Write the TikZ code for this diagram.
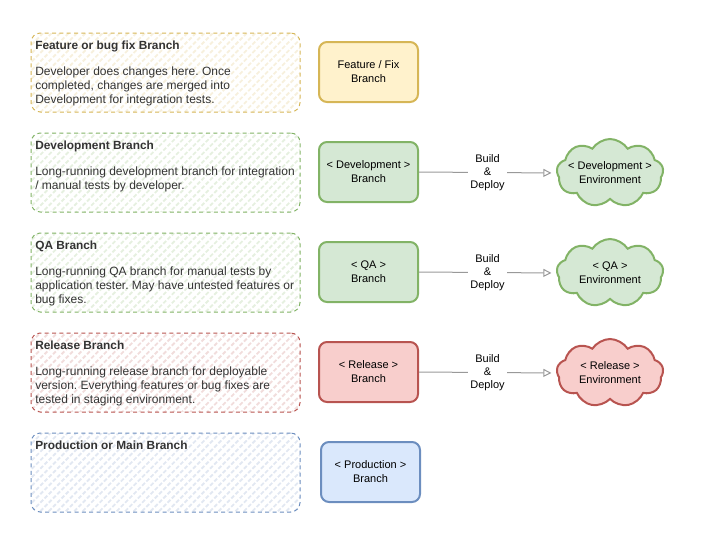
\documentclass[tikz,border=0pt]{standalone}
\usepackage{fontspec}
\setmainfont{Liberation Sans}
\frenchspacing
\usetikzlibrary{arrows.meta,shapes.symbols,patterns.meta}
\definecolor{ylwfill}{HTML}{FFF2CC}
\definecolor{ylwline}{HTML}{D6B656}
\definecolor{grnfill}{HTML}{D5E8D4}
\definecolor{grnline}{HTML}{82B366}
\definecolor{redfill}{HTML}{F8CECC}
\definecolor{redline}{HTML}{B85450}
\definecolor{blufill}{HTML}{DAE8FC}
\definecolor{bluline}{HTML}{6C8EBF}
\definecolor{txt}{HTML}{333333}
\definecolor{wire}{HTML}{999999}

\begin{document}
\begin{tikzpicture}[
  x=0.75pt, y=-0.75pt,
  panel/.style={draw=#1, dashed, dash pattern=on 3pt off 2.5pt, line width=0.75pt,
                rounded corners=7pt, minimum width=201.75pt, minimum height=59.25pt,
                pattern={Lines[angle=45,distance=4.5pt,line width=1.4pt]},
                pattern color=#1!20},
  ttl/.style={anchor=base west, font=\fontsize{8.9}{11}\selectfont\bfseries, text=txt,
              inner sep=0pt},
  body/.style={anchor=north west, font=\fontsize{9}{10.5}\selectfont, text=txt,
               align=left, inner sep=0pt},
  branch/.style args={#1/#2}{draw=#2, fill=#1, line width=1.5pt, rounded corners=6pt,
                minimum width=74.25pt, minimum height=45pt, align=center,
                font=\fontsize{8.25}{10.5}\selectfont},
  env/.style args={#1/#2}{cloud, cloud puffs=9, cloud puff arc=115, aspect=1.55,
                draw=#2, fill=#1, line width=1.5pt, inner sep=0pt,
                minimum width=80pt, minimum height=51pt},
  envtxt/.style={align=center, font=\fontsize{8.25}{10.5}\selectfont},
  lbl/.style={fill=white, text=black, align=center, inner sep=1.5pt,
              font=\fontsize{8.25}{9.75}\selectfont},
  ar/.style={-{Triangle[open,length=6pt,width=6pt]}, wire, line width=0.75pt,
             shorten >=3.5pt},
]

\useasboundingbox (0,0) rectangle (702,543);

% ---- left panels ----
\node[panel=ylwline] (fp) at (165.5,72.5) {};
\node[panel=grnline] (dp) at (165.5,172.5) {};
\node[panel=grnline] (qp) at (165.5,272.5) {};
\node[panel=redline] (rp) at (165.5,372.5) {};
\node[panel=bluline] (pp) at (165.5,472.5) {};

\node[ttl] (ft) at (35,49.5) {Feature or bug fix Branch};
\node[body] (fb) at (35,66.5) {Developer does changes here. Once\\completed, changes are merged into\\Development for integration tests.};

\node[ttl] (dt) at (35,149.5) {Development Branch};
\node[body] (db) at (35,166.5) {Long-running development branch for integration\\/ manual tests by developer.};

\node[ttl] (qt) at (35,249.5) {QA Branch};
\node[body] (qb) at (35,266.5) {Long-running QA branch for manual tests by\\application tester. May have untested features or\\bug fixes.};

\node[ttl] (rt) at (35,349.5) {Release Branch};
\node[body] (rb) at (35,366.5) {Long-running release branch for deployable\\version. Everything features or bug fixes are\\tested in staging environment.};

\node[ttl] (pt) at (35,449.5) {Production or Main Branch};

% ---- branches ----
\node[branch=ylwfill/ylwline] (fbr) at (368.5,72) {Feature / Fix\\Branch};
\node[branch=grnfill/grnline] (dbr) at (368.5,172) {< Development >\\Branch};
\node[branch=grnfill/grnline] (qbr) at (368.5,272) {< QA >\\Branch};
\node[branch=redfill/redline] (rbr) at (368.5,372) {< Release >\\Branch};
\node[branch=blufill/bluline] (pbr) at (370.5,472) {< Production >\\Branch};

% ---- environments ----
\node[env=grnfill/grnline, label={[envtxt]center:< Development >\\Environment}] (den) at (610,173) {};
\node[env=grnfill/grnline, label={[envtxt]center:< QA >\\Environment}] (qen) at (610,273) {};
\node[env=redfill/redline, label={[envtxt]center:< Release >\\Environment}] (ren) at (610,373) {};

\foreach \b/\e in {dbr/den,qbr/qen,rbr/ren}{
  \draw[ar] (\b.east) -- node[lbl] {Build\\\&\\Deploy} (\e.west);}

\end{tikzpicture}
\end{document}
